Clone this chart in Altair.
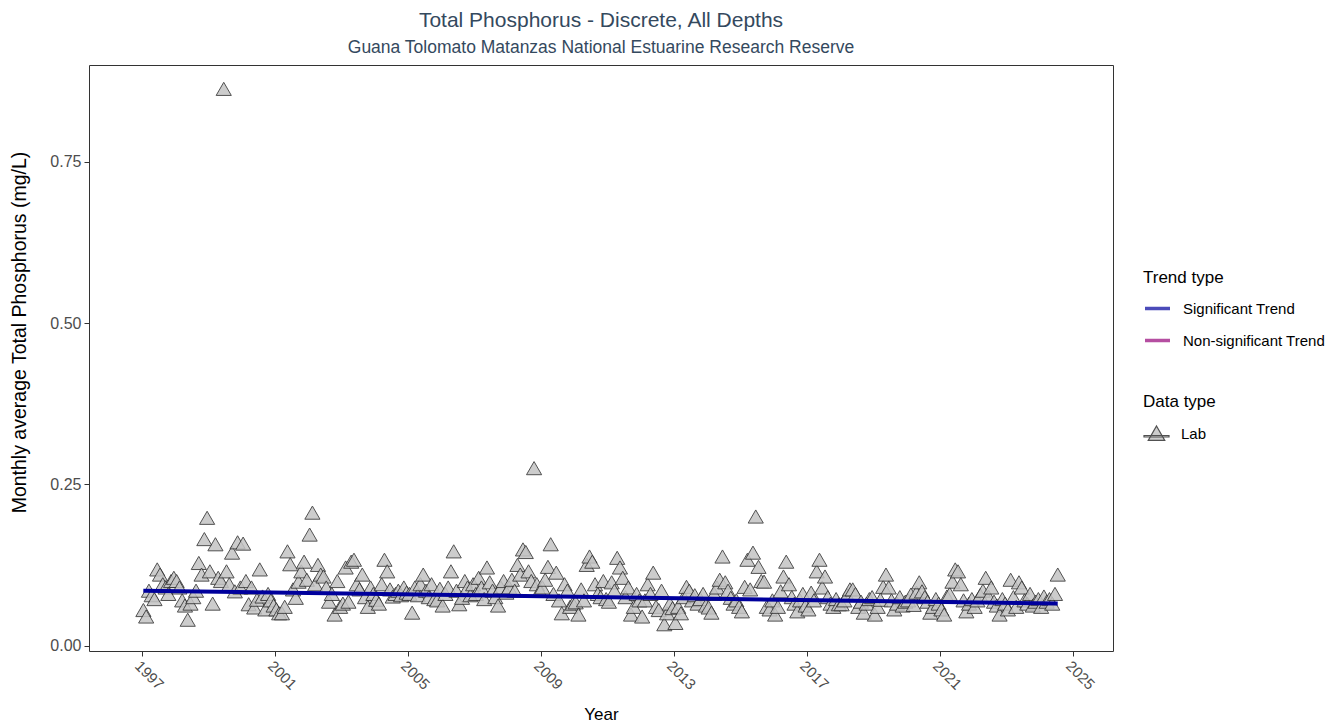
import altair as alt
import pandas as pd

# Monthly average Total Phosphorus (mg/L), Jan..Dec per year
tp_1997 = [0.055, 0.045, 0.085, 0.078, 0.072, 0.118, 0.110, 0.095, 0.090, 0.080, 0.100, 0.105]
tp_1998 = [0.100, 0.090, 0.070, 0.062, 0.040, 0.065, 0.075, 0.085, 0.128, 0.110, 0.165, 0.198]
tp_1999 = [0.115, 0.065, 0.157, 0.105, 0.100, 0.863, 0.115, 0.095, 0.144, 0.084, 0.160, 0.090]
tp_2000 = [0.158, 0.100, 0.064, 0.090, 0.059, 0.071, 0.118, 0.076, 0.056, 0.080, 0.070, 0.062]
tp_2001 = [0.056, 0.050, 0.050, 0.060, 0.146, 0.126, 0.087, 0.074, 0.099, 0.115, 0.130, 0.102]
tp_2002 = [0.172, 0.206, 0.095, 0.125, 0.110, 0.107, 0.090, 0.068, 0.080, 0.048, 0.100, 0.060]
tp_2003 = [0.065, 0.121, 0.068, 0.130, 0.133, 0.095, 0.087, 0.110, 0.075, 0.060, 0.090, 0.080]
tp_2004 = [0.071, 0.065, 0.095, 0.133, 0.115, 0.087, 0.076, 0.080, 0.085, 0.078, 0.090, 0.082]
tp_2005 = [0.080, 0.051, 0.090, 0.078, 0.095, 0.110, 0.085, 0.075, 0.095, 0.072, 0.070, 0.088]
tp_2006 = [0.062, 0.080, 0.090, 0.115, 0.146, 0.085, 0.064, 0.074, 0.100, 0.090, 0.078, 0.095]
tp_2007 = [0.080, 0.105, 0.090, 0.072, 0.121, 0.098, 0.085, 0.075, 0.062, 0.090, 0.100, 0.082]
tp_2008 = [0.090, 0.102, 0.085, 0.125, 0.110, 0.149, 0.145, 0.115, 0.100, 0.275, 0.095, 0.085]
tp_2009 = [0.090, 0.102, 0.122, 0.157, 0.080, 0.113, 0.070, 0.050, 0.095, 0.085, 0.060, 0.065]
tp_2010 = [0.067, 0.048, 0.087, 0.070, 0.125, 0.138, 0.130, 0.095, 0.080, 0.075, 0.100, 0.072]
tp_2011 = [0.068, 0.098, 0.085, 0.136, 0.121, 0.105, 0.075, 0.090, 0.048, 0.060, 0.080, 0.070]
tp_2012 = [0.045, 0.070, 0.095, 0.080, 0.113, 0.060, 0.055, 0.085, 0.033, 0.050, 0.065, 0.058]
tp_2013 = [0.035, 0.060, 0.050, 0.075, 0.091, 0.085, 0.070, 0.078, 0.065, 0.072, 0.080, 0.062]
tp_2014 = [0.059, 0.051, 0.080, 0.090, 0.102, 0.138, 0.098, 0.085, 0.074, 0.065, 0.070, 0.060]
tp_2015 = [0.053, 0.091, 0.133, 0.087, 0.144, 0.200, 0.122, 0.100, 0.099, 0.060, 0.056, 0.070]
tp_2016 = [0.048, 0.060, 0.084, 0.107, 0.130, 0.095, 0.075, 0.065, 0.053, 0.070, 0.080, 0.062]
tp_2017 = [0.056, 0.082, 0.070, 0.115, 0.133, 0.090, 0.107, 0.075, 0.065, 0.060, 0.072, 0.064]
tp_2018 = [0.064, 0.070, 0.078, 0.087, 0.087, 0.080, 0.060, 0.068, 0.051, 0.065, 0.072, 0.075]
tp_2019 = [0.048, 0.060, 0.071, 0.091, 0.110, 0.090, 0.070, 0.056, 0.065, 0.075, 0.062, 0.068]
tp_2020 = [0.070, 0.079, 0.063, 0.082, 0.098, 0.084, 0.075, 0.068, 0.051, 0.060, 0.072, 0.065]
tp_2021 = [0.056, 0.048, 0.076, 0.080, 0.099, 0.118, 0.115, 0.095, 0.070, 0.053, 0.065, 0.072]
tp_2022 = [0.060, 0.070, 0.078, 0.085, 0.105, 0.076, 0.090, 0.068, 0.062, 0.048, 0.072, 0.065]
tp_2023 = [0.056, 0.102, 0.075, 0.060, 0.098, 0.090, 0.070, 0.065, 0.080, 0.062, 0.068, 0.072]
tp_2024 = [0.060, 0.076, 0.068, 0.072, 0.065, 0.080, 0.110]

yearly = {
    1997: tp_1997, 1998: tp_1998, 1999: tp_1999, 2000: tp_2000, 2001: tp_2001,
    2002: tp_2002, 2003: tp_2003, 2004: tp_2004, 2005: tp_2005, 2006: tp_2006,
    2007: tp_2007, 2008: tp_2008, 2009: tp_2009, 2010: tp_2010, 2011: tp_2011,
    2012: tp_2012, 2013: tp_2013, 2014: tp_2014, 2015: tp_2015, 2016: tp_2016,
    2017: tp_2017, 2018: tp_2018, 2019: tp_2019, 2020: tp_2020, 2021: tp_2021,
    2022: tp_2022, 2023: tp_2023, 2024: tp_2024,
}

# Trend line end points (decimal year, mg/L)
trend_x = [1997.04, 2024.54]
trend_y = [0.085, 0.065]
trend_types = ["Significant Trend", "Non-significant Trend"]
trend_colors = ["#00009c", "#96047a"]

x_ticks = [1997, 2001, 2005, 2009, 2013, 2017, 2021, 2025]
y_ticks = [0.0, 0.25, 0.5, 0.75]

rows = []
for yr, vals in yearly.items():
    for i, v in enumerate(vals):
        rows.append({"x": yr + (i + 0.5) / 12, "tp": v, "dtype": "Lab"})
pts = pd.DataFrame(rows)
trend = pd.DataFrame({"x": trend_x, "tp": trend_y, "trend": ["Significant Trend"] * 2})

FONT = "Liberation Sans"
xscale = alt.Scale(domain=[1995.406, 2026.203], nice=False, zero=False)
yscale = alt.Scale(domain=[-0.0085, 0.9], nice=False, zero=False)

xaxis = alt.Axis(values=x_ticks, format="d", labelAngle=45, labelAlign="left",
                 labelBaseline="top", title="Year", grid=False, domain=False,
                 tickColor="#333333", tickSize=5, labelFontSize=15,
                 labelColor="#4d4d4d", titleFontSize=17, titleFontWeight="normal",
                 titleColor="black", labelPadding=2, titlePadding=14)
yaxis = alt.Axis(values=y_ticks, format=".2f", title="Monthly average Total Phosphorus (mg/L)",
                 grid=False, domain=False, tickColor="#333333", tickSize=5,
                 labelFontSize=16, labelColor="#4d4d4d", titleFontSize=19.5,
                 titleFontWeight="normal", titleColor="black", labelPadding=3,
                 titlePadding=20, titleY=267)

lab_symbol = "M0,-0.6L0.66,0.55L-0.66,0.55Z M-1,0.16H1V0.28H-1Z"

points = alt.Chart(pts).mark_point(
    shape="triangle-up", filled=True, size=230, stroke="#333333",
    strokeWidth=1, opacity=0.85
).encode(
    x=alt.X("x:Q", scale=xscale, axis=xaxis),
    y=alt.Y("tp:Q", scale=yscale, axis=yaxis),
    fill=alt.Fill("dtype:N", scale=alt.Scale(domain=["Lab"], range=["#c4c4c4"]),
                  legend=alt.Legend(title="Data type", orient="none", legendX=1054,
                                    legendY=329, symbolType=lab_symbol, symbolSize=625,
                                    symbolStrokeColor="#333333", symbolStrokeWidth=1.2,
                                    titlePadding=9, labelOffset=11)),
)

line = alt.Chart(trend).mark_line(strokeWidth=4).encode(
    x=alt.X("x:Q", scale=xscale),
    y=alt.Y("tp:Q", scale=yscale),
    color=alt.Color("trend:N", scale=alt.Scale(domain=trend_types, range=trend_colors),
                    legend=alt.Legend(title="Trend type", orient="none", legendX=1054,
                                      legendY=205, symbolType="stroke", symbolSize=625,
                                      symbolStrokeWidth=3.5, symbolOpacity=0.7,
                                      rowPadding=9, titlePadding=7, labelOffset=11)),
)

chart = alt.layer(points, line).properties(
    width=1024, height=586,
    autosize=alt.AutoSizeParams(type="none"),
    padding={"left": 81, "top": 57, "right": 222, "bottom": 72},
    title=alt.TitleParams(
        text="Total Phosphorus - Discrete, All Depths",
        subtitle="Guana Tolomato Matanzas National Estuarine Research Reserve",
        anchor="middle", frame="group", fontSize=21, subtitleFontSize=17.5,
        color="#34495e", subtitleColor="#34495e", fontWeight="normal",
        font=FONT, subtitleFont=FONT, offset=9, subtitlePadding=8),
).configure(font=FONT).configure_view(
    stroke="#333333", strokeWidth=1
).configure_legend(
    titleFontSize=17, titleFontWeight="normal", titleColor="black",
    labelFontSize=15, labelColor="black", padding=0, titleFont=FONT, labelFont=FONT
).configure_axis(labelFont=FONT, titleFont=FONT)

chart.save("out.html", embed_options={"renderer": "svg", "actions": False})
